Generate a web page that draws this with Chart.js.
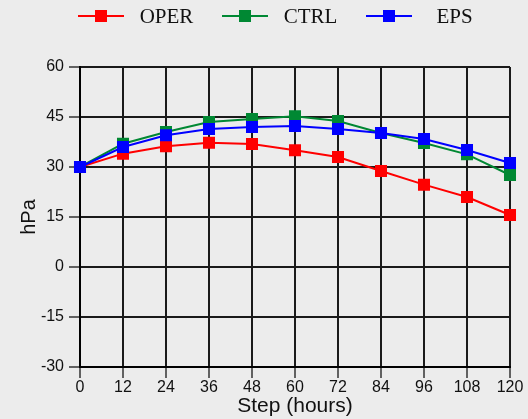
<!DOCTYPE html>
<html>
<head>
<meta charset="utf-8">
<script src="https://cdn.jsdelivr.net/npm/chart.js@4"></script>
<style>
  html, body { margin: 0; padding: 0; background: #ececec; }
  #wrap { width: 528px; height: 419px; }
</style>
</head>
<body>
<div id="wrap"><canvas id="c" width="528" height="419"></canvas></div>
<script>
const steps = [0, 12, 24, 36, 48, 60, 72, 84, 96, 108, 120];
const operValues = [30, 34, 36.2, 37.3, 36.9, 35, 33, 28.8, 24.7, 21, 15.6];
const ctrlValues = [30, 37, 40.5, 43.5, 44.4, 45.2, 43.8, 40.2, 37.2, 33.8, 27.6];
const epsValues = [30, 36, 39.5, 41.4, 42, 42.3, 41.4, 40.2, 38.4, 35.1, 31.2];
const yTicks = [-30, -15, 0, 15, 30, 45, 60];
const seriesNames = ['OPER', 'CTRL', 'EPS'];
const seriesColors = ['#ff0000', '#008833', '#0000ff'];

const bgPlugin = {
  id: 'bg',
  beforeDraw(chart) {
    const ctx = chart.ctx;
    ctx.save();
    ctx.fillStyle = '#ececec';
    ctx.fillRect(0, 0, chart.width, chart.height);
    ctx.restore();
  }
};

const legendPlugin = {
  id: 'customLegend',
  afterDraw(chart) {
    const ctx = chart.ctx;
    ctx.save();
    const y = 16;
    chart.data.datasets.forEach((ds, i) => {
      const x0 = 78 + i * 144;
      ctx.strokeStyle = ds.borderColor;
      ctx.lineWidth = 2;
      ctx.beginPath();
      ctx.moveTo(x0, y);
      ctx.lineTo(x0 + 46, y);
      ctx.stroke();
      ctx.fillStyle = ds.borderColor;
      ctx.fillRect(x0 + 23 - 6, y - 6, 12, 12);
      ctx.fillStyle = '#111';
      ctx.font = '21px "Liberation Serif", "Times New Roman", serif';
      ctx.textAlign = 'center';
      ctx.textBaseline = 'middle';
      ctx.fillText(ds.label, x0 + 88.5, y + 1);
    });
    ctx.restore();
  }
};

const datasets = [operValues, ctrlValues, epsValues].map((vals, i) => ({
  label: seriesNames[i],
  data: vals,
  borderColor: seriesColors[i],
  backgroundColor: seriesColors[i],
  borderWidth: 2,
  pointStyle: 'rect',
  pointRadius: 8.5,
  pointHoverRadius: 8.5,
  pointBorderWidth: 0,
  tension: 0,
  order: 2 - i
}));

new Chart(document.getElementById('c'), {
  type: 'line',
  data: { labels: steps, datasets },
  plugins: [bgPlugin, legendPlugin],
  options: {
    responsive: false,
    animation: false,
    devicePixelRatio: 1,
    layout: { padding: { top: 67, right: 18, left: 0, bottom: 0 } },
    plugins: { legend: { display: false }, tooltip: { enabled: false } },
    scales: {
      x: {
        type: 'category',
        offset: false,
        border: { color: '#000', width: 2 },
        grid: { color: '#1a1a1a', lineWidth: 2, tickLength: 11, drawTicks: true, tickColor: '#333', tickWidth: 1.5 },
        ticks: { color: '#111', font: { family: '"Liberation Sans", Arial, sans-serif', size: 16 }, padding: 0, maxRotation: 0, autoSkip: false },
        title: { display: true, text: 'Step (hours)', color: '#111', font: { family: '"Liberation Sans", Arial, sans-serif', size: 21 }, padding: { top: -4, bottom: 0 } },
        afterFit(scale) { scale.height = 52; }
      },
      y: {
        min: -30, max: 60,
        afterBuildTicks(scale) { scale.ticks = yTicks.map(v => ({ value: v })); },
        border: { color: '#000', width: 2 },
        grid: { color: '#1a1a1a', lineWidth: 2, tickLength: 11, drawTicks: true, tickColor: '#333', tickWidth: 1.5 },
        ticks: { color: '#111', font: { family: '"Liberation Sans", Arial, sans-serif', size: 16 }, padding: 5 },
        title: { display: true, text: 'hPa', color: '#111', font: { family: '"Liberation Sans", Arial, sans-serif', size: 20 }, padding: { top: 17, bottom: 0 } },
        afterFit(scale) { scale.width = 80; }
      }
    }
  }
});
</script>
</body>
</html>
